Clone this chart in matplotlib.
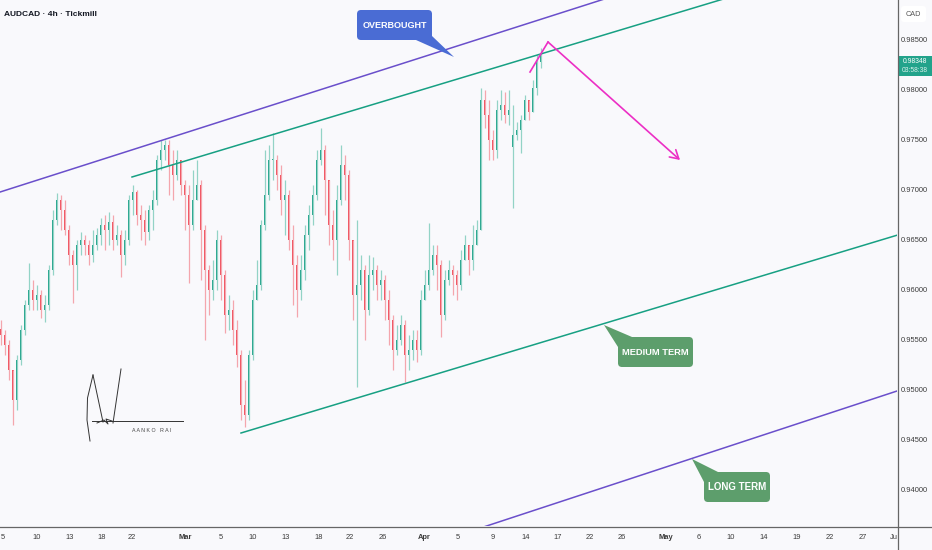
import numpy as np
import matplotlib
matplotlib.use("Agg")
import matplotlib.pyplot as plt
from matplotlib.patches import FancyBboxPatch, Polygon
from matplotlib.lines import Line2D
from matplotlib.transforms import Affine2D

plt.rcParams['font.family'] = ['Liberation Sans', 'DejaVu Sans']

# 4h candles, one entry per bar (open = previous close unless a gap is listed)
first_open = 0.9560
closes = [
    0.9554, 0.9544, 0.9519, 0.9489, 0.9529, 0.9559, 0.9584, 0.9599, 0.9589, 0.9594,
    0.9579, 0.9584, 0.9619, 0.9669, 0.9689, 0.9679, 0.9659, 0.9634, 0.9624, 0.9644,
    0.9649, 0.9644, 0.9634, 0.9644, 0.9654, 0.9664, 0.9659, 0.9667, 0.9649, 0.9654,
    0.9634, 0.9649, 0.9689, 0.9697, 0.9674, 0.9669, 0.9657, 0.9679, 0.9689, 0.9729,
    0.9739, 0.9744, 0.9724, 0.9714, 0.9729, 0.9704, 0.9694, 0.9664, 0.9689, 0.9704,
    0.9659, 0.9619, 0.9599, 0.9609, 0.9649, 0.9614, 0.9574, 0.9579, 0.9559, 0.9534,
    0.9484, 0.9474, 0.9534, 0.9589, 0.9604, 0.9664, 0.9694, 0.9729, 0.9729, 0.9714,
    0.9689, 0.9694, 0.9649, 0.9624, 0.9599, 0.9619, 0.9654, 0.9674, 0.9694, 0.9729,
    0.9739, 0.9709, 0.9664, 0.9649, 0.9689, 0.9724, 0.9714, 0.9649, 0.9594, 0.9604,
    0.9619, 0.9579, 0.9614, 0.9619, 0.9604, 0.9609, 0.9589, 0.9569, 0.9539, 0.9549,
    0.9564, 0.9534, 0.9539, 0.9549, 0.9539, 0.9589, 0.9604, 0.9619, 0.9634, 0.9624,
    0.9574, 0.9609, 0.9619, 0.9614, 0.9604, 0.9629, 0.9644, 0.9629, 0.9644, 0.9659,
    0.9789, 0.9774, 0.9749, 0.9739, 0.9779, 0.9784, 0.9774, 0.9779, 0.9754, 0.9759,
    0.9769, 0.9789, 0.9777, 0.9801, 0.9827, 0.9835]
highs = [
    0.9569, 0.9559, 0.9549, 0.9519, 0.9534, 0.9564, 0.9589, 0.9626, 0.9609, 0.9604,
    0.9599, 0.9594, 0.9624, 0.9679, 0.9696, 0.9694, 0.9689, 0.9664, 0.9639, 0.9649,
    0.9657, 0.9654, 0.9649, 0.9659, 0.9661, 0.9671, 0.9674, 0.9677, 0.9674, 0.9664,
    0.9659, 0.9659, 0.9694, 0.9704, 0.9699, 0.9684, 0.9679, 0.9684, 0.9699, 0.9734,
    0.9749, 0.9749, 0.9749, 0.9739, 0.9739, 0.9729, 0.9709, 0.9704, 0.9719, 0.9729,
    0.9709, 0.9664, 0.9624, 0.9629, 0.9659, 0.9654, 0.9619, 0.9594, 0.9589, 0.9569,
    0.9539, 0.9509, 0.9539, 0.9599, 0.9629, 0.9669, 0.9739, 0.9744, 0.9756, 0.9734,
    0.9724, 0.9709, 0.9699, 0.9664, 0.9634, 0.9634, 0.9664, 0.9684, 0.9704, 0.9739,
    0.9761, 0.9744, 0.9689, 0.9679, 0.9704, 0.9744, 0.9734, 0.9719, 0.9649, 0.9669,
    0.9634, 0.9624, 0.9634, 0.9632, 0.9624, 0.9619, 0.9614, 0.9599, 0.9574, 0.9564,
    0.9574, 0.9569, 0.9554, 0.9559, 0.9559, 0.9599, 0.9619, 0.9666, 0.9644, 0.9644,
    0.9629, 0.9619, 0.9629, 0.9624, 0.9619, 0.9639, 0.9654, 0.9644, 0.9664, 0.9669,
    0.9801, 0.9799, 0.9789, 0.9759, 0.9789, 0.9799, 0.9797, 0.9799, 0.9784, 0.9767,
    0.9774, 0.9794, 0.9789, 0.9809, 0.9834, 0.9841]
lows = [
    0.9544, 0.9534, 0.9509, 0.9464, 0.9479, 0.9524, 0.9554, 0.9579, 0.9579, 0.9579,
    0.9571, 0.9567, 0.9579, 0.9614, 0.9664, 0.9659, 0.9654, 0.9624, 0.9586, 0.9599,
    0.9634, 0.9634, 0.9624, 0.9627, 0.9639, 0.9644, 0.9639, 0.9644, 0.9639, 0.9644,
    0.9612, 0.9624, 0.9644, 0.9674, 0.9664, 0.9649, 0.9644, 0.9649, 0.9659, 0.9684,
    0.9719, 0.9729, 0.9694, 0.9689, 0.9709, 0.9694, 0.9659, 0.9606, 0.9659, 0.9689,
    0.9609, 0.9549, 0.9574, 0.9589, 0.9599, 0.9589, 0.9556, 0.9559, 0.9544, 0.9522,
    0.9469, 0.9462, 0.9469, 0.9529, 0.9589, 0.9599, 0.9659, 0.9689, 0.9709, 0.9699,
    0.9674, 0.9654, 0.9639, 0.9584, 0.9572, 0.9589, 0.9609, 0.9639, 0.9664, 0.9689,
    0.9724, 0.9674, 0.9644, 0.9629, 0.9614, 0.9684, 0.9689, 0.9629, 0.9569, 0.9502,
    0.9589, 0.9549, 0.9574, 0.9599, 0.9589, 0.9589, 0.9569, 0.9544, 0.9519, 0.9534,
    0.9544, 0.9507, 0.9519, 0.9529, 0.9527, 0.9534, 0.9589, 0.9599, 0.9614, 0.9599,
    0.9552, 0.9569, 0.9604, 0.9594, 0.9589, 0.9599, 0.9629, 0.9614, 0.9619, 0.9644,
    0.9659, 0.9761, 0.9729, 0.9729, 0.9731, 0.9769, 0.9766, 0.9764, 0.9681, 0.9749,
    0.9736, 0.9774, 0.9769, 0.9784, 0.9794, 0.9821]
gap_opens = {128: 0.9742}

# date axis (bar index positions) and price axis
date_ticks = [0.5, 9, 17.25, 25.25, 32.75, 46, 55, 63, 71.25, 79.5, 87.25, 95.5, 105.75,
              114.25, 123, 131.25, 139.25, 147.25, 155.25, 166.25, 174.5, 182.5, 190.75,
              199, 207.25, 215.5, 223.25]
date_labels = ["5", "10", "13", "18", "22", "Mar", "5", "10", "13", "18", "22", "26", "Apr",
               "5", "9", "14", "17", "22", "26", "May", "6", "10", "14", "19", "22", "27", "Ju"]
price_ticks = [0.940, 0.945, 0.950, 0.955, 0.960, 0.965, 0.970, 0.975, 0.980, 0.985]

# drawings: (bar index, price) anchors
upper_purple = ([-1, 155], [0.9696, 0.98953])
lower_purple = ([118.5, 225], [0.93592, 0.94993])
upper_green = ([32.75, 185], [0.9712, 0.98953])
lower_green = ([60, 225], [0.9456, 0.9655])
forecast = ([132.25, 136.75, 169.75], [0.9817, 0.9847, 0.9729])
last_price = "0.98348"
countdown = "03:58:38"

BG = "#f9f9fc"
UP, DOWN = "#22a38b", "#f0505e"
UP_WICK, DOWN_WICK = "#93d3c6", "#f4a6ad"
GREEN, PURPLE, MAGENTA = "#17a083", "#6a4fcb", "#ec2fc5"

fig = plt.figure(figsize=(9.32, 5.5), dpi=100, facecolor=BG)
ax = fig.add_axes([0, 24 / 550, 897 / 932, 526 / 550])
ax.set_facecolor(BG)

closes = np.array(closes)
opens = np.concatenate([[first_open], closes[:-1]])
for i, v in gap_opens.items():
    opens[i] = v
idx = np.arange(len(closes))
highs = np.maximum(np.array(highs), np.maximum(opens, closes))
lows = np.minimum(np.array(lows), np.minimum(opens, closes))
rising = closes >= opens
cols = np.where(rising, UP, DOWN)
wick_cols = np.where(rising, UP_WICK, DOWN_WICK)

ax.vlines(idx, lows, highs, colors=wick_cols, linewidth=0.9)
body = np.maximum(np.abs(closes - opens), 0.00006)
ax.bar(idx, body, bottom=np.minimum(opens, closes), width=0.65, color=cols, linewidth=0)

ax.plot(*upper_purple, color=PURPLE, lw=1.1)
ax.plot(*lower_purple, color=PURPLE, lw=1.1)
ax.plot(*upper_green, color=GREEN, lw=1.1)
ax.plot(*lower_green, color=GREEN, lw=1.1)
ax.plot(forecast[0][:2], forecast[1][:2], color=MAGENTA, lw=1.2)
ax.annotate("", xy=(forecast[0][2], forecast[1][2]), xytext=(forecast[0][1], forecast[1][1]),
            arrowprops=dict(arrowstyle="->,head_length=0.6,head_width=0.35", color=MAGENTA,
                            lw=1.2, shrinkA=0, shrinkB=0))

ax.set_xlim(-0.25, 224)
ax.set_ylim(0.9363, 0.9889)
for s in ax.spines.values():
    s.set_visible(False)
ax.yaxis.tick_right()
ax.set_yticks(price_ticks, [f"{p:.5f}" for p in price_ticks])
ax.set_xticks(date_ticks, date_labels)
ax.tick_params(axis="y", length=0, pad=2.5, labelsize=5.4, labelcolor="#3a3a3a")
ax.tick_params(axis="x", length=0, pad=6, labelsize=5.4, labelcolor="#3a3a3a")
for lab in ax.get_xticklabels():
    if lab.get_text() in ("Mar", "Apr", "May"):
        lab.set_fontweight("bold")

# overlay in picture pixels (origin top-left)
pix = Affine2D().scale(1, -1).translate(0, 550)
fig.add_artist(Line2D([0, 932], [526.5, 526.5], transform=pix, color="#666666", lw=0.9))
fig.add_artist(Line2D([897.5, 897.5], [0, 550], transform=pix, color="#666666", lw=0.9))

fig.text(4, 14, "AUDCAD · 4h · Tickmill", transform=pix, fontsize=6, fontweight="bold",
         color="#131722", va="center")
fig.add_artist(FancyBboxPatch((901, 6), 25, 16, boxstyle="round,pad=0,rounding_size=3",
                              transform=pix, fc="white", ec="none"))
fig.text(913.5, 14, "CAD", transform=pix, fontsize=5.2, color="#555555", ha="center", va="center")
fig.add_artist(FancyBboxPatch((898, 56), 34, 20, boxstyle="square,pad=0",
                              transform=pix, fc=UP, ec="none"))
fig.text(915, 61.5, last_price, transform=pix, fontsize=4.9, color="white", ha="center", va="center")
fig.text(915, 70.5, countdown, transform=pix, fontsize=4.9, color="#d8f0ea", ha="center", va="center")


def callout(text, box, base, tip, color, size=7):
    x0, y0, x1, y1 = box
    fig.add_artist(Polygon([base[0], base[1], tip], closed=True, transform=pix, fc=color, ec="none"))
    fig.add_artist(FancyBboxPatch((x0, y0), x1 - x0, y1 - y0, boxstyle="round,pad=0,rounding_size=4",
                                  transform=pix, fc=color, ec="none"))
    fig.text((x0 + x1) / 2, (y0 + y1) / 2 + 0.5, text, transform=pix, ha="center", va="center",
             color="white", fontsize=size, fontweight="bold")


callout("OVERBOUGHT", (357, 10, 432, 40), ((416, 40), (432, 36)), (454, 57), "#4a6cd4", 6.5)
callout("MEDIUM TERM", (618, 337, 693, 367), ((618, 347), (632, 337)), (604, 325), "#5d9e6c", 6.7)
callout("LONG TERM", (704, 472, 770, 502), ((704, 482), (718, 472)), (692, 459), "#5d9e6c")

# signature
sig = dict(transform=pix, color="#333333", lw=0.7)
fig.add_artist(Line2D([90, 87, 87.5, 93], [441, 420, 398, 375], **sig))
fig.add_artist(Line2D([93, 103], [375, 422], **sig))
fig.add_artist(Line2D([92, 183], [421, 421], **sig))
fig.add_artist(Line2D([97, 104, 108, 106, 112], [423, 420, 424, 419, 421], **sig))
fig.add_artist(Line2D([113, 121], [423, 369], **sig))
fig.text(152, 431, "A A N K O   R A I", transform=pix, fontsize=3.8, color="#444444",
         ha="center", va="center")

fig.savefig("out.png", dpi=100, facecolor=BG)
